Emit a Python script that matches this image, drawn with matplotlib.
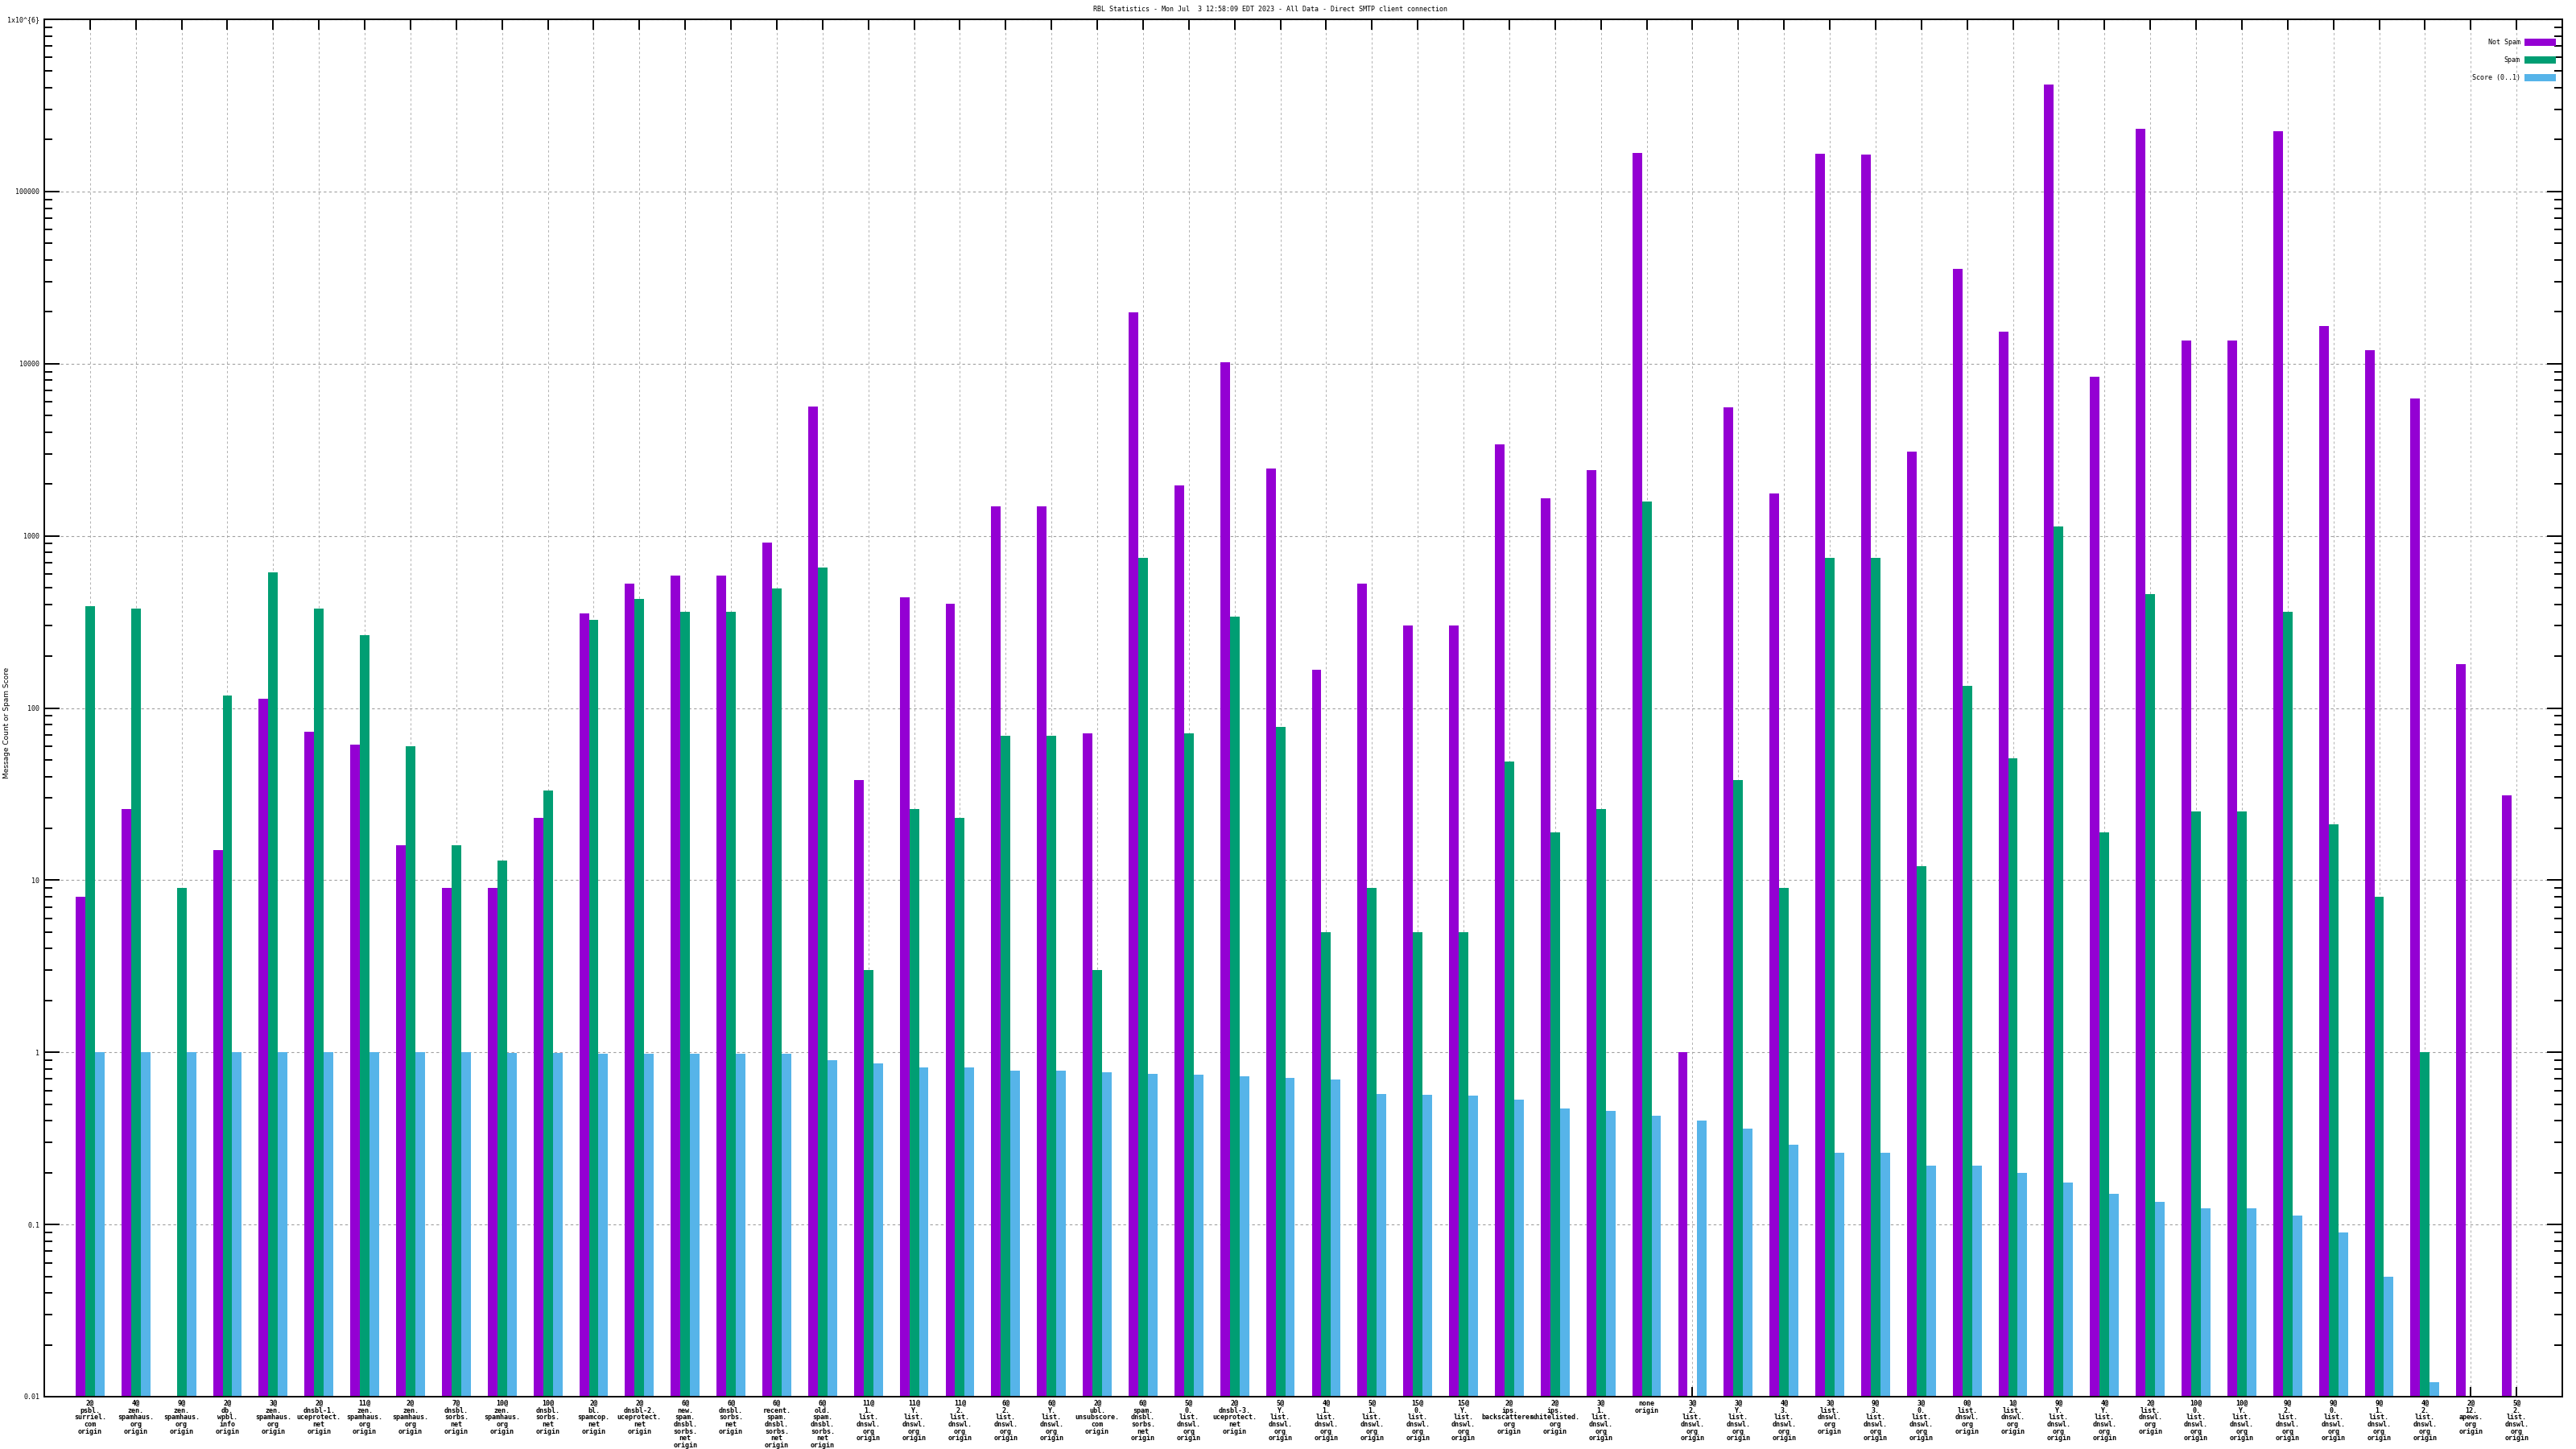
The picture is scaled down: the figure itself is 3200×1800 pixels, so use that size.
import matplotlib.pyplot as plt
import matplotlib.ticker as mticker
import numpy as np

# RBL statistics - per list/score combination
nan = np.nan

labels = [
    "2@\npsbl.\nsurriel.\ncom\norigin",
    "4@\nzen.\nspamhaus.\norg\norigin",
    "9@\nzen.\nspamhaus.\norg\norigin",
    "2@\ndb.\nwpbl.\ninfo\norigin",
    "3@\nzen.\nspamhaus.\norg\norigin",
    "2@\ndnsbl-1.\nuceprotect.\nnet\norigin",
    "11@\nzen.\nspamhaus.\norg\norigin",
    "2@\nzen.\nspamhaus.\norg\norigin",
    "7@\ndnsbl.\nsorbs.\nnet\norigin",
    "10@\nzen.\nspamhaus.\norg\norigin",
    "10@\ndnsbl.\nsorbs.\nnet\norigin",
    "2@\nbl.\nspamcop.\nnet\norigin",
    "2@\ndnsbl-2.\nuceprotect.\nnet\norigin",
    "6@\nnew.\nspam.\ndnsbl.\nsorbs.\nnet\norigin",
    "6@\ndnsbl.\nsorbs.\nnet\norigin",
    "6@\nrecent.\nspam.\ndnsbl.\nsorbs.\nnet\norigin",
    "6@\nold.\nspam.\ndnsbl.\nsorbs.\nnet\norigin",
    "11@\n1.\nlist.\ndnswl.\norg\norigin",
    "11@\nY.\nlist.\ndnswl.\norg\norigin",
    "11@\n2.\nlist.\ndnswl.\norg\norigin",
    "6@\n2.\nlist.\ndnswl.\norg\norigin",
    "6@\nY.\nlist.\ndnswl.\norg\norigin",
    "2@\nubl.\nunsubscore.\ncom\norigin",
    "6@\nspam.\ndnsbl.\nsorbs.\nnet\norigin",
    "5@\n0.\nlist.\ndnswl.\norg\norigin",
    "2@\ndnsbl-3.\nuceprotect.\nnet\norigin",
    "5@\nY.\nlist.\ndnswl.\norg\norigin",
    "4@\n1.\nlist.\ndnswl.\norg\norigin",
    "5@\n1.\nlist.\ndnswl.\norg\norigin",
    "15@\n0.\nlist.\ndnswl.\norg\norigin",
    "15@\nY.\nlist.\ndnswl.\norg\norigin",
    "2@\nips.\nbackscatterer.\norg\norigin",
    "2@\nips.\nwhitelisted.\norg\norigin",
    "3@\n1.\nlist.\ndnswl.\norg\norigin",
    "none\norigin",
    "3@\n2.\nlist.\ndnswl.\norg\norigin",
    "3@\nY.\nlist.\ndnswl.\norg\norigin",
    "4@\n3.\nlist.\ndnswl.\norg\norigin",
    "3@\nlist.\ndnswl.\norg\norigin",
    "9@\n3.\nlist.\ndnswl.\norg\norigin",
    "3@\n0.\nlist.\ndnswl.\norg\norigin",
    "0@\nlist.\ndnswl.\norg\norigin",
    "1@\nlist.\ndnswl.\norg\norigin",
    "9@\nY.\nlist.\ndnswl.\norg\norigin",
    "4@\nY.\nlist.\ndnswl.\norg\norigin",
    "2@\nlist.\ndnswl.\norg\norigin",
    "10@\n0.\nlist.\ndnswl.\norg\norigin",
    "10@\nY.\nlist.\ndnswl.\norg\norigin",
    "9@\n2.\nlist.\ndnswl.\norg\norigin",
    "9@\n0.\nlist.\ndnswl.\norg\norigin",
    "9@\n1.\nlist.\ndnswl.\norg\norigin",
    "4@\n2.\nlist.\ndnswl.\norg\norigin",
    "2@\n12.\napews.\norg\norigin",
    "5@\n2.\nlist.\ndnswl.\norg\norigin",
]

not_spam = [8, 26, nan, 15, 113, 73, 61, 16, 9, 9,
            23, 354, 526, 587, 587, 910, 5650, 38, 441, 404,
            1480, 1480, 71, 19800, 1960, 10200, 2450, 167, 526, 302,
            302, 3400, 1650, 2400, 168000, 1, 5550, 1770, 166000, 164000,
            3100, 35700, 15300, 420000, 8400, 232000, 13700, 13700, 225000, 16600,
            12000, 6300, 179, 31]

spam = [390, 378, 9, 118, 613, 378, 266, 60, 16, 13,
        33, 324, 431, 362, 362, 494, 655, 3, 26, 23,
        69, 69, 3, 748, 71, 338, 78, 5, 9, 5,
        5, 49, 19, 26, 1580, nan, 38, 9, 748, 748,
        12, 134, 51, 1135, 19, 460, 25, 25, 362, 21,
        8, 1, nan, nan]

score = [1.0, 1.0, 1.0, 1.0, 1.0, 1.0, 1.0, 1.0, 1.0, 0.99,
         0.99, 0.98, 0.98, 0.98, 0.98, 0.98, 0.9, 0.86, 0.815, 0.815,
         0.78, 0.78, 0.764, 0.748, 0.74, 0.724, 0.709, 0.694, 0.571, 0.565,
         0.559, 0.53, 0.471, 0.456, 0.428, 0.401, 0.36, 0.29, 0.26, 0.26,
         0.22, 0.22, 0.2, 0.176, 0.15, 0.135, 0.124, 0.124, 0.113, 0.09,
         0.05, 0.0122, nan, nan]

ytick_vals = [0.01, 0.1, 1, 10, 100, 1000, 10000, 100000, 1000000]
ytick_labels = ["0.01", "0.1", "1", "10", "100", "1000", "10000", "100000", "1x10^{6}"]

title = "RBL Statistics - Mon Jul  3 12:58:09 EDT 2023 - All Data - Direct SMTP client connection"

mono = "DejaVu Sans Mono"
fs = 6

fig = plt.figure(figsize=(32, 18), dpi=100)
ax = fig.add_axes([55 / 3200, 1 - 1735 / 1800, 3128 / 3200, 1711 / 1800])

x = np.arange(len(labels))
w = 0.21
ax.bar(x - w, not_spam, w, color="#9400d3", label="Not Spam")
ax.bar(x, spam, w, color="#009e73", label="Spam")
ax.bar(x + w, score, w, color="#56b4e9", label="Score (0..1)")

ax.set_yscale("log")
ax.set_ylim(0.01, 1e6)
ax.set_xlim(-1, 54)

ax.yaxis.set_major_locator(mticker.FixedLocator(ytick_vals))
ax.set_yticklabels(ytick_labels, family=mono, fontsize=fs)
ax.yaxis.set_minor_locator(mticker.LogLocator(base=10, subs=np.arange(2, 10), numticks=20))
ax.yaxis.set_minor_formatter(mticker.NullFormatter())

ax.set_xticks(x)
ax.set_xticklabels(labels, family=mono, fontsize=fs, linespacing=0.95, va="top",
                   fontweight="bold")

ax.tick_params(axis="both", which="both", direction="in", top=True, right=True, width=1.4)
ax.tick_params(axis="y", which="major", length=13.5, pad=4)
ax.tick_params(axis="y", which="minor", length=7)
ax.tick_params(axis="x", which="major", length=9, pad=3)

for s in ax.spines.values():
    s.set_linewidth(1.4)

ax.set_axisbelow(True)
ax.grid(True, which="major", axis="y", color="#a0a0a0", linestyle=(0, (3, 3)), linewidth=0.8)
ax.grid(True, which="major", axis="x", color="#b0b0b0", linestyle=(0, (3, 3)), linewidth=0.7)

ax.set_ylabel("Message Count or Spam Score", fontsize=6.5, family="DejaVu Sans")
ax.yaxis.set_label_coords(-0.0135, 0.489)

fig.text(0.493, 0.9935, title, ha="center", va="center", family=mono, fontsize=fs)

ax.legend(loc="upper right", bbox_to_anchor=(0.9974, 0.986), frameon=False,
          markerfirst=False, borderaxespad=0, borderpad=0,
          handlelength=4.7, handleheight=1.32, labelspacing=1.5, handletextpad=0.6,
          prop={"family": mono, "size": fs})

fig.savefig("out.png", dpi=100)
